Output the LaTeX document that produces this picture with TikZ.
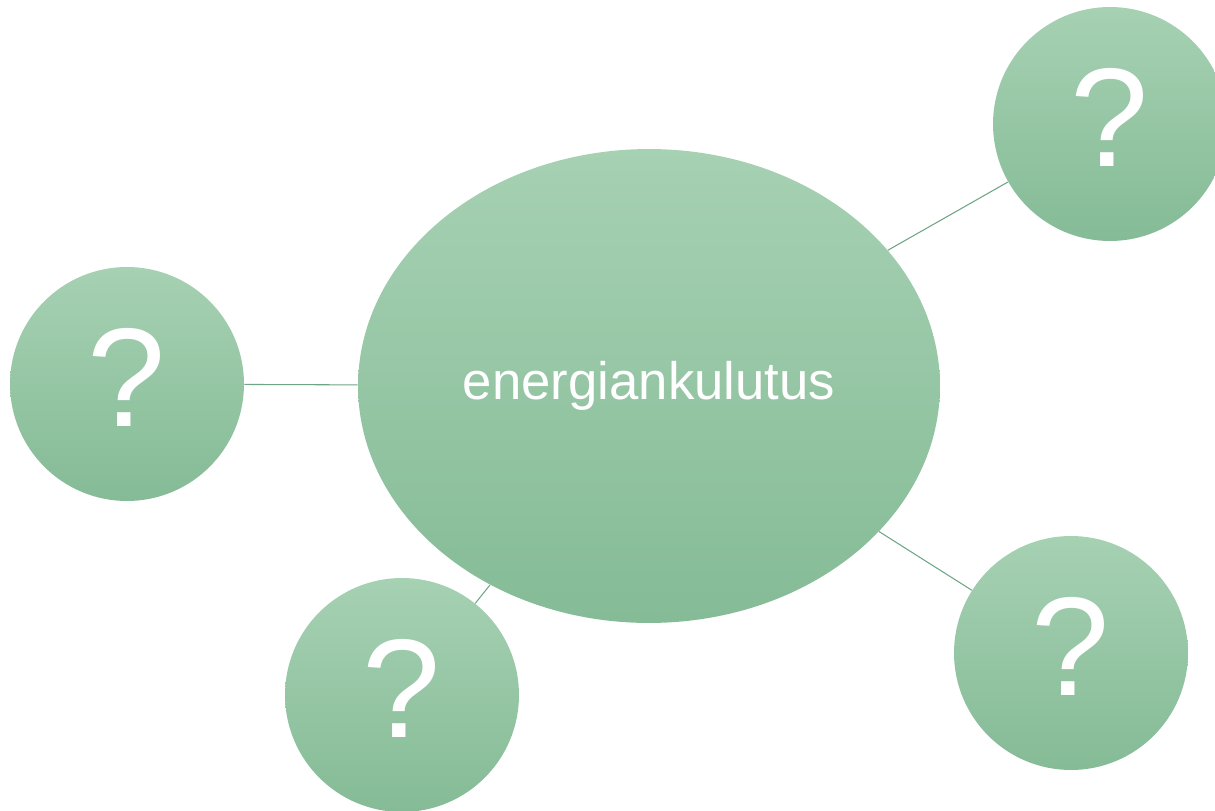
\documentclass[tikz,border=0pt]{standalone}
\usepackage{fontspec}
\setmainfont{Liberation Sans}
\usepackage{tikz}
\usetikzlibrary{shapes.geometric}
\definecolor{gtop}{HTML}{A6D1B3}
\definecolor{gbot}{HTML}{85BB96}
\definecolor{gline}{HTML}{6FA584}

\begin{document}
\begin{tikzpicture}
  [x=0.02cm, y=-0.02cm,
   hub/.style={ellipse, minimum width=11.64cm, minimum height=9.48cm, inner sep=0pt,
     top color=gtop, bottom color=gbot, text=white,
     font=\fontsize{30}{30}\selectfont},
   blob/.style={circle, minimum size=4.68cm, inner sep=0pt,
     top color=gtop, bottom color=gbot, text=white, text depth=0.28cm,
     font=\fontsize{80}{80}\selectfont}]
  \useasboundingbox (0, 0) rectangle (1215, 811);
  \node[hub] (c) at (649, 386) {energiankulutus};
  \node[blob] (q1) at (127, 384) {?};
  \node[blob] (q2) at (1110, 124) {?};
  \node[blob] (q3) at (402, 695) {?};
  \node[blob] (q4) at (1071, 653) {?};

  \foreach \to in {q1,q2,q3,q4}
  \draw[gline, line width=.6pt] (c) -- (\to);
\end{tikzpicture}
\end{document}
